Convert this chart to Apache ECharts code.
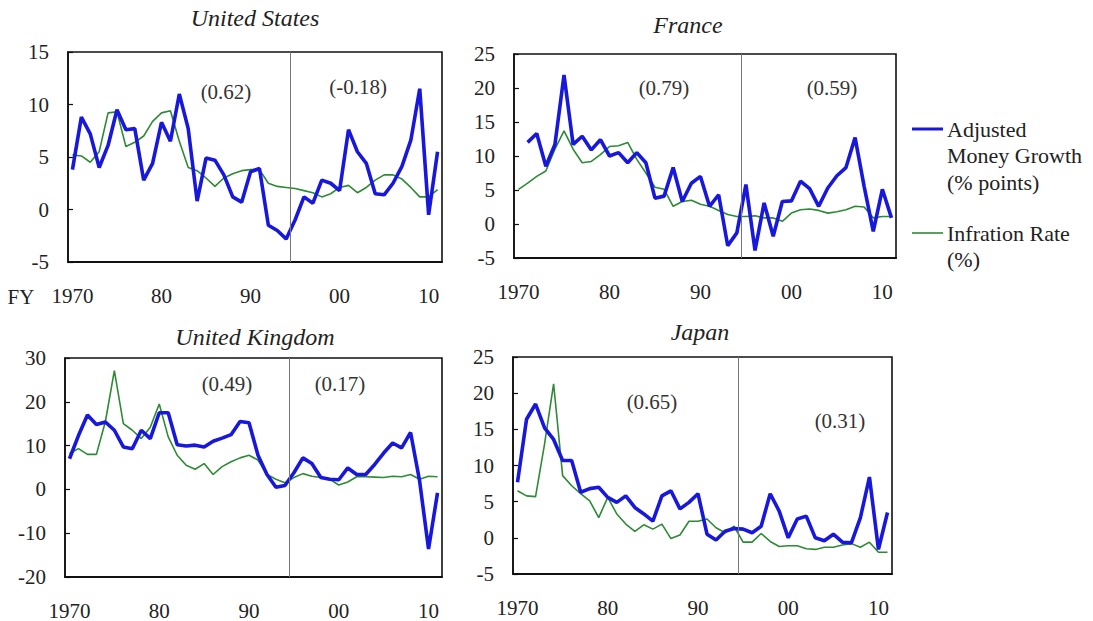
<!DOCTYPE html>
<html>
<head>
<meta charset="utf-8">
<script src="https://cdn.jsdelivr.net/npm/echarts@6/dist/echarts.min.js"></script>
<style>
html,body{margin:0;padding:0;background:#fff;}
#chart{width:1093px;height:621px;}
</style>
</head>
<body>
<div id="chart"></div>
<script>
// ---- data ----
const years = [1970,1971,1972,1973,1974,1975,1976,1977,1978,1979,
               1980,1981,1982,1983,1984,1985,1986,1987,1988,1989,
               1990,1991,1992,1993,1994,1995,1996,1997,1998,1999,
               2000,2001,2002,2003,2004,2005,2006,2007,2008,2009,
               2010,2011];
const xTickYears = [1970,1980,1990,2000,2010];
const xTickText = ['1970','80','90','00','10'];
const breakYear = 1994.5;

const usMoney = [3.8,8.8,7.2,4.0,6.1,9.5,7.6,7.7,2.8,4.4,
                 8.3,6.5,11.0,7.7,0.8,4.9,4.7,3.3,1.2,0.7,
                 3.6,3.9,-1.5,-2.0,-2.8,-1.0,1.2,0.6,2.8,2.5,
                 1.8,7.6,5.5,4.4,1.5,1.4,2.5,4.1,6.6,11.5,
                 -0.5,5.5];
const usInfl  = [5.2,5.1,4.5,5.5,9.2,9.3,6.0,6.4,7.0,8.4,
                 9.2,9.4,6.5,4.0,3.7,3.0,2.2,3.0,3.4,3.7,
                 3.8,3.8,2.5,2.2,2.1,2.0,1.8,1.6,1.2,1.5,
                 2.1,2.3,1.6,2.1,2.8,3.3,3.3,2.9,2.1,1.2,
                 1.2,1.9];
const frMoney = [null,12.0,13.3,8.5,11.7,21.9,11.7,12.9,10.9,12.4,
                 10.0,10.5,9.0,10.5,9.0,3.8,4.1,8.3,3.3,6.0,
                 7.0,2.6,4.3,-3.2,-1.3,5.8,-3.9,3.1,-1.8,3.3,
                 3.4,6.3,5.2,2.6,5.3,7.1,8.3,12.7,5.5,-1.1,
                 5.1,0.9];
const frInfl  = [5.1,6.0,7.0,7.8,11.0,13.7,11.0,9.0,9.2,10.2,
                 11.4,11.5,12.0,9.5,7.5,5.4,5.1,2.6,3.3,3.5,
                 2.9,2.6,2.0,1.4,1.1,1.1,1.2,0.9,0.9,0.4,
                 1.6,2.1,2.2,2.0,1.6,1.8,2.1,2.6,2.5,0.9,
                 1.1,1.1];
const ukMoney = [7.0,12.3,17.0,14.8,15.4,13.5,9.7,9.3,13.5,11.6,
                 17.5,17.5,10.2,9.9,10.1,9.7,11.0,11.7,12.5,15.5,
                 15.2,7.8,3.4,0.5,0.9,3.8,7.2,5.9,2.7,2.3,
                 2.2,4.9,3.4,3.4,5.7,8.3,10.6,9.5,13.0,2.0,
                 -13.6,-0.8];
const ukInfl  = [8.2,9.3,8.0,8.0,15.5,27.1,15.0,13.5,11.6,14.2,
                 19.5,12.0,7.8,5.5,4.6,5.9,3.4,5.2,6.3,7.2,
                 7.8,6.7,3.4,2.3,1.5,2.7,3.6,3.0,2.7,2.3,
                 1.0,1.7,2.9,2.9,2.8,2.7,3.0,2.9,3.4,2.3,
                 3.0,2.9];
const jpMoney = [7.7,16.4,18.5,15.2,13.6,10.7,10.7,6.3,6.8,7.0,
                 5.6,4.9,5.8,4.2,3.3,2.3,5.8,6.5,4.0,4.9,
                 6.1,0.5,-0.3,0.9,1.3,1.2,0.7,1.6,6.1,3.7,
                 0.0,2.6,3.0,0.0,-0.4,0.5,-0.6,-0.7,2.8,8.4,
                 -1.6,3.5];
const jpInfl  = [6.5,5.8,5.7,13.0,21.3,8.6,7.2,6.1,5.1,2.8,
                 5.6,3.3,1.9,0.9,1.8,1.2,1.9,-0.1,0.4,2.3,
                 2.3,2.6,1.4,0.7,1.6,-0.6,-0.6,0.6,-0.5,-1.2,
                 -1.1,-1.1,-1.5,-1.6,-1.3,-1.3,-1.0,-0.8,-1.3,-0.6,
                 -2.0,-2.0];

const panelTitles = ['United States','France','United Kingdom','Japan'];
const corrLabels = [['(0.62)','(-0.18)'],['(0.79)','(0.59)'],['(0.49)','(0.17)'],['(0.65)','(0.31)']];
const yRanges = [[-5,15,5],[-5,25,5],[-20,30,10],[-5,25,5]];
const moneyName = 'Adjusted Money Growth (% points)';
const inflName = 'Infration Rate (%)';
const legendLines = [['Adjusted','Money Growth','(% points)'],['Infration Rate','(%)']];

// ---- layout ----
const FONT = 'Liberation Serif';
const BLUE = '#1818dc';
const GREEN = '#2f8a36';
const grids = [
  {left:68, top:52, width:374, height:210},
  {left:514, top:54, width:382, height:204},
  {left:65, top:358, width:377, height:220},
  {left:513, top:357, width:379, height:217}
];
const titlePos = [[255,18],[688,25],[255,337],[700,332]];
const corrPos = [[[226,92],[358,87]],[[664,88],[832,88]],[[227,384],[340,384]],[[652,402],[840,421]]];
const moneySets = [usMoney, frMoney, ukMoney, jpMoney];
const inflSets = [usInfl, frInfl, ukInfl, jpInfl];

const pair = (arr) => years.map((y,i) => [y, arr[i]]);

const option = {
  animation: false,
  backgroundColor: '#fff',
  grid: grids.map(g => Object.assign({show:true, borderColor:'#111', borderWidth:1.6, backgroundColor:'transparent'}, g)),
  xAxis: grids.map((g,i) => ({
    type:'value', gridIndex:i, min:1969.5, max:2011.5,
    axisLine:{show:true, onZero:false, lineStyle:{color:'#111', width:2}},
    axisTick:{show:false},
    splitLine:{show:false},
    axisLabel:{
      customValues: xTickYears,
      formatter: v => xTickText[xTickYears.indexOf(v)],
      margin: 23, fontSize: 21, fontFamily: FONT, color: '#222'
    }
  })),
  yAxis: grids.map((g,i) => ({
    type:'value', gridIndex:i, min:yRanges[i][0], max:yRanges[i][1], interval:yRanges[i][2],
    axisLine:{show:true, onZero:false, lineStyle:{color:'#111', width:1.6}},
    axisTick:{show:true, inside:true, length:5, lineStyle:{color:'#111', width:1.2}},
    splitLine:{show:false},
    axisLabel:{margin:19, fontSize:21, fontFamily:FONT, color:'#222'}
  })),
  series: []
};

for (let i = 0; i < 4; i++) {
  option.series.push({
    name: inflName, type:'line', xAxisIndex:i, yAxisIndex:i,
    data: pair(inflSets[i]), showSymbol:false, connectNulls:false,
    lineStyle:{color:GREEN, width:1.6}, itemStyle:{color:GREEN}, z:2,
    markLine:{
      silent:true, symbol:['none','none'], label:{show:false},
      lineStyle:{color:'#777', width:1, type:'solid'},
      data:[{xAxis: breakYear}]
    }
  });
  option.series.push({
    name: moneyName, type:'line', xAxisIndex:i, yAxisIndex:i,
    data: pair(moneySets[i]), showSymbol:false,
    lineStyle:{color:BLUE, width:3.6}, itemStyle:{color:BLUE}, z:3
  });
}

const graphics = [];
const txt = (x, y, text, opts) => graphics.push({
  type:'text', x:x, y:y, silent:true,
  style:Object.assign({text:text, align:'center', verticalAlign:'middle', fill:'#222',
    fontFamily:FONT, fontSize:21}, opts || {})
});
panelTitles.forEach((t,i) => txt(titlePos[i][0], titlePos[i][1], t, {fontStyle:'italic', fontSize:24}));
corrLabels.forEach((pairL,i) => pairL.forEach((t,j) => txt(corrPos[i][j][0], corrPos[i][j][1], t, {fontSize:21, fill:'#333'})));
txt(21, 297, 'FY', {fontSize:21});
// legend
graphics.push({type:'line', silent:true, shape:{x1:912,y1:129,x2:943,y2:129}, style:{stroke:BLUE, lineWidth:3}});
graphics.push({type:'line', silent:true, shape:{x1:912,y1:233,x2:943,y2:233}, style:{stroke:GREEN, lineWidth:1.6}});
legendLines[0].forEach((t,k) => txt(947, 129 + k*26.5, t, {align:'left', fontSize:22}));
legendLines[1].forEach((t,k) => txt(947, 233 + k*26.5, t, {align:'left', fontSize:22}));
option.graphic = graphics;

const chart = echarts.init(document.getElementById('chart'), null, {renderer:'svg'});
chart.setOption(option);
</script>
</body>
</html>
